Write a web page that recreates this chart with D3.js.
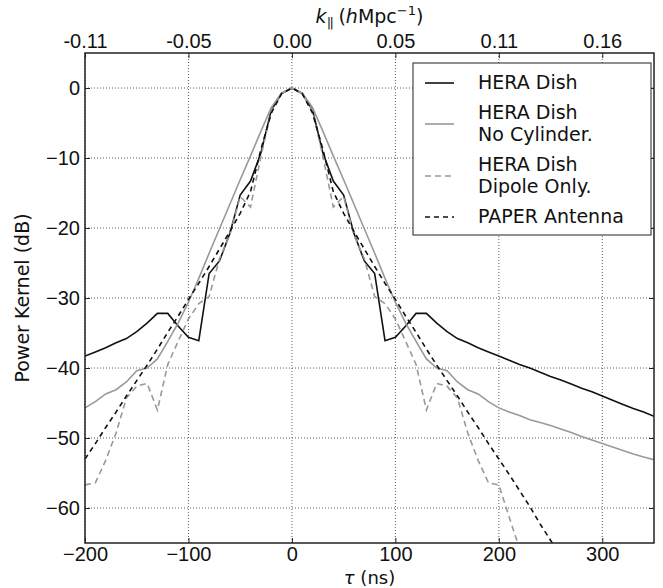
<!DOCTYPE html>
<html>
<head>
<meta charset="utf-8">
<script src="https://cdn.jsdelivr.net/npm/d3@7"></script>
<style>
  body { margin: 0; background: #fff; }
  svg { display: block; font-family: "DejaVu Sans", sans-serif; }
</style>
</head>
<body>
<div id="chart"></div>
<script>
// delay axis (ns), one sample every 10 ns
var tau = [-200, -190, -180, -170, -160, -150, -140, -130, -120, -110,
  -100, -90, -80, -70, -60, -50, -40, -30, -20, -10,
  0, 10, 20, 30, 40, 50, 60, 70, 80, 90,
  100, 110, 120, 130, 140, 150, 160, 170, 180, 190,
  200, 210, 220, 230, 240, 250, 260, 270, 280, 290,
  300, 310, 320, 330, 340, 350];

// power kernel in dB
var heraDish = [-38.3, -37.7, -37.1, -36.4, -35.8, -34.8, -33.6, -32.2, -32.2, -34.0,
  -35.6, -36.1, -26.5, -24.7, -20.8, -15.3, -13.3, -9.3, -3.2, -0.8,
  0, -0.8, -3.2, -9.3, -13.3, -15.3, -20.8, -24.7, -26.5, -36.1,
  -35.6, -34.0, -32.2, -32.2, -33.6, -34.8, -35.8, -36.4, -37.1, -37.7,
  -38.3, -38.9, -39.5, -40.0, -40.6, -41.2, -41.7, -42.3, -42.9, -43.4,
  -44.0, -44.6, -45.2, -45.8, -46.3, -46.9];

var noCylinder = [-45.7, -44.8, -43.7, -43.1, -42.0, -40.4, -40.0, -38.7, -36.2, -33.6,
  -30.6, -27.2, -23.6, -20.1, -16.6, -13.1, -9.7, -6.2, -2.8, -0.7,
  0, -0.7, -2.8, -6.2, -9.7, -13.1, -16.6, -20.1, -23.6, -27.2,
  -30.6, -33.6, -36.2, -38.7, -40.0, -40.4, -42.0, -43.1, -43.7, -44.8,
  -45.7, -46.3, -46.8, -47.4, -47.8, -48.2, -48.7, -49.2, -49.8, -50.3,
  -50.8, -51.3, -51.8, -52.3, -52.7, -53.1];

var dipoleOnly = [-56.7, -56.4, -53.2, -49.3, -44.3, -42.6, -42.2, -46.0, -39.5, -36.2,
  -33.0, -30.8, -29.8, -24.4, -21.0, -15.5, -17.0, -9.8, -3.3, -0.8,
  0, -0.8, -3.3, -9.8, -17.0, -15.5, -21.0, -24.4, -29.8, -30.8,
  -33.0, -36.2, -39.5, -46.0, -42.2, -42.6, -44.3, -49.3, -53.2, -56.4,
  -56.7, -61.3, -65.8, -70.5, null, null, null, null, null, null,
  null, null, null, null, null, null];

var paperAntenna = [-53.0, -50.8, -48.5, -46.3, -44.0, -41.8, -39.6, -37.3, -34.9, -32.6,
  -30.2, -27.9, -25.5, -23.0, -20.5, -17.9, -14.8, -8.8, -3.6, -0.8,
  0, -0.8, -3.6, -8.8, -14.8, -17.9, -20.5, -23.0, -25.5, -27.9,
  -30.2, -32.6, -34.9, -37.3, -39.6, -41.8, -44.0, -46.3, -48.5, -50.8,
  -53.0, -55.2, -57.5, -59.8, -62.3, -64.6, -66.9, null, null, null,
  null, null, null, null, null, null];

var xTicks = [-200, -100, 0, 100, 200, 300];
var yTicks = [0, -10, -20, -30, -40, -50, -60];
var kLabels = ["-0.11", "-0.05", "0.00", "0.05", "0.11", "0.16"];

var seriesNames = [["HERA Dish"], ["HERA Dish", "No Cylinder."], ["HERA Dish", "Dipole Only."], ["PAPER Antenna"]];
var seriesValues = [heraDish, noCylinder, dipoleOnly, paperAntenna];
var seriesColors = ["#111", "#999", "#999", "#111"];
var seriesDash = [null, null, "6,4", "5,4"];

var width = 663, height = 588;
var margin = {left: 85, right: 9, top: 53, bottom: 45};
var ink = '#111';

var svg = d3.select('#chart').append('svg')
  .attr('width', width)
  .attr('height', height);

var x = d3.scaleLinear().domain([-200, 350]).range([margin.left, width - margin.right]);
var y = d3.scaleLinear().domain([-65, 5]).range([height - margin.bottom, margin.top]);

var minus = function (d) { return d < 0 ? '\u2212' + Math.abs(d) : String(d); };

// grid
var grid = svg.append('g').attr('stroke', '#333').attr('stroke-width', 0.8).attr('stroke-dasharray', '1,2');
grid.selectAll('.gx').data(xTicks).enter().append('line')
  .attr('x1', function (d) { return x(d); }).attr('x2', function (d) { return x(d); })
  .attr('y1', y(5)).attr('y2', y(-65));
grid.selectAll('.gy').data(yTicks).enter().append('line')
  .attr('y1', function (d) { return y(d); }).attr('y2', function (d) { return y(d); })
  .attr('x1', x(-200)).attr('x2', x(350));

svg.append('clipPath').attr('id', 'clip').append('rect')
  .attr('x', x(-200)).attr('y', y(5))
  .attr('width', x(350) - x(-200)).attr('height', y(-65) - y(5));

var line = d3.line()
  .defined(function (d) { return d[1] !== null; })
  .x(function (d) { return x(d[0]); })
  .y(function (d) { return y(d[1]); });

seriesValues.forEach(function (vals, i) {
  svg.append('path')
    .datum(tau.map(function (t, j) { return [t, vals[j]]; }))
    .attr('clip-path', 'url(#clip)')
    .attr('fill', 'none')
    .attr('stroke', seriesColors[i])
    .attr('stroke-width', 1.6)
    .attr('stroke-dasharray', seriesDash[i])
    .attr('d', line);
});

// axes, ticks pointing inwards
function styleAxis(g) {
  g.select('.domain').remove();
  g.selectAll('.tick line').attr('stroke', '#222').attr('stroke-width', 1);
  g.selectAll('.tick text').attr('fill', ink).attr('font-size', 20);
}

svg.append('g').attr('transform', 'translate(0,' + y(-65) + ')')
  .call(d3.axisBottom(x).tickValues(xTicks).tickSize(-5).tickPadding(4).tickFormat(minus))
  .call(styleAxis);
svg.append('g').attr('transform', 'translate(0,' + y(5) + ')')
  .call(d3.axisTop(x).tickValues(xTicks).tickSize(-5).tickPadding(5)
    .tickFormat(function (d, i) { return kLabels[i]; }))
  .call(styleAxis);
svg.append('g').attr('transform', 'translate(' + x(-200) + ',0)')
  .call(d3.axisLeft(y).tickValues(yTicks).tickSize(-5).tickPadding(5).tickFormat(minus))
  .call(styleAxis);
svg.append('g').attr('transform', 'translate(' + x(350) + ',0)')
  .call(d3.axisRight(y).tickValues(yTicks).tickSize(-5).tickFormat(''))
  .call(styleAxis);

svg.append('rect')
  .attr('x', x(-200)).attr('y', y(5))
  .attr('width', x(350) - x(-200)).attr('height', y(-65) - y(5))
  .attr('fill', 'none').attr('stroke', '#222').attr('stroke-width', 1.5);

// axis titles
var cx = (x(-200) + x(350)) / 2;
var xl = svg.append('text').attr('x', cx).attr('y', 584)
  .attr('text-anchor', 'middle').attr('font-size', 18).attr('fill', ink);
xl.append('tspan').attr('font-style', 'italic').text('\u03c4');
xl.append('tspan').text(' (ns)');

var kl = svg.append('text').attr('x', cx).attr('y', 23)
  .attr('text-anchor', 'middle').attr('font-size', 19).attr('fill', ink);
kl.append('tspan').attr('font-style', 'italic').text('k');
kl.append('tspan').attr('font-size', 13).attr('dy', 4).attr('letter-spacing', -1.5).attr('fill', ink).text('||');
kl.append('tspan').attr('dy', -4).text('  (');
kl.append('tspan').attr('font-style', 'italic').text('h');
kl.append('tspan').text('Mpc');
kl.append('tspan').attr('font-size', 13).attr('dy', -8).text('\u22121');
kl.append('tspan').attr('dy', 8).text(')');

svg.append('text')
  .attr('transform', 'translate(22,' + (y(5) + y(-65)) / 2 + ') rotate(-90)')
  .attr('text-anchor', 'middle').attr('dominant-baseline', 'central')
  .attr('font-size', 19).attr('fill', ink)
  .text('Power Kernel (dB)');

// legend
var legend = svg.append('g');
legend.append('rect')
  .attr('x', 413).attr('y', 63).attr('width', 238).attr('height', 172)
  .attr('fill', '#fff').attr('stroke', '#222').attr('stroke-width', 1);

var rowY = 82, lineH = 22;
seriesNames.forEach(function (lines, i) {
  var mid = rowY + (lines.length - 1) * lineH / 2;
  legend.append('line')
    .attr('x1', 425).attr('x2', 454).attr('y1', mid + 1).attr('y2', mid + 1)
    .attr('stroke', seriesColors[i]).attr('stroke-width', 1.6)
    .attr('stroke-dasharray', seriesDash[i]);
  lines.forEach(function (s, j) {
    legend.append('text')
      .attr('x', 478).attr('y', rowY + j * lineH)
      .attr('dominant-baseline', 'central')
      .attr('font-size', 19).attr('fill', ink)
      .text(s);
  });
  rowY += lines.length * lineH + 8;
});
</script>
</body>
</html>
